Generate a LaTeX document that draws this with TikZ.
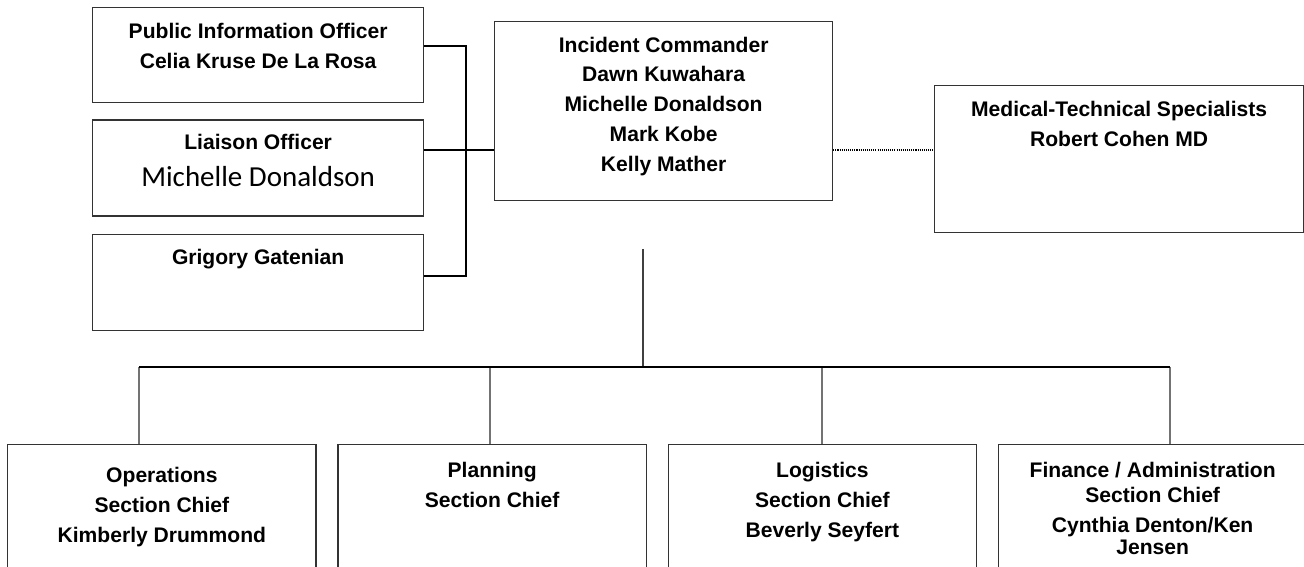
\documentclass[tikz,border=0pt]{standalone}
\usepackage{fontspec}
\setmainfont{Liberation Sans}
\newfontfamily\carlito{Carlito}
\usetikzlibrary{positioning, calc}

\begin{document}
\begin{tikzpicture}[x=0.02cm, y=-0.02cm,
    every node/.style={inner sep=0pt},
    unit/.style={draw=black!80, line width=0.75pt, rectangle, anchor=north west},
    txt/.style={align=center, font=\bfseries\fontsize{12}{17}\selectfont},
    link/.style={line width=0.9pt},
    drop/.style={line width=1.6pt, draw=black!55}]
    \useasboundingbox (0,0) rectangle (1304,567);

    % command staff on the left
    \node[unit, minimum width=6.62cm, minimum height=1.9cm] (pio) at (92,7) {}; % Public information
    \node[unit, minimum width=6.62cm, minimum height=1.92cm, below=0.32cm of pio] (liaison) {}; % Liaison
    \node[unit, minimum width=6.62cm, minimum height=1.92cm, below=0.34cm of liaison] (grig) {}; % Third staff box

    % commander and specialists
    \node[unit, minimum width=6.76cm, minimum height=3.58cm] (ic) at (494,21) {}; % Incident commander
    \node[unit, minimum width=7.38cm, minimum height=2.94cm] (med) at (934,85) {}; % Medical-technical

    % general staff sections
    \node[unit, minimum width=6.17cm, minimum height=2.7cm] (ops) at (7,444) {}; % Operations
    \node[unit, minimum width=6.17cm, minimum height=2.7cm, right=0.41cm of ops] (plan) {}; % Planning
    \node[unit, minimum width=6.17cm, minimum height=2.7cm, right=0.41cm of plan] (logi) {}; % Logistics
    \node[unit, minimum width=6.17cm, minimum height=2.7cm, right=0.41cm of logi] (fin) {}; % Finance

    % box texts
    \node[txt, below=0.32cm of pio.north] (pio-t) {Public Information Officer\\Celia Kruse De La Rosa};
    \node[txt, below=0.30cm of liaison.north] (liaison-t) {Liaison Officer\\[4pt]{\carlito\mdseries\fontsize{16.5}{18}\selectfont Michelle Donaldson}};
    \node[txt, below=0.31cm of grig.north] (grig-t) {Grigory Gatenian};
    \node[txt, below=0.31cm of ic.north] (ic-t) {Incident Commander\\Dawn Kuwahara\\Michelle Donaldson\\Mark Kobe\\Kelly Mather};
    \node[txt, below=0.32cm of med.north] (med-t) {Medical-Technical Specialists\\Robert Cohen MD};
    \node[txt, below=0.46cm of ops.north] (ops-t) {Operations\\Section Chief\\Kimberly Drummond};
    \node[txt, below=0.36cm of plan.north] (plan-t) {Planning\\Section Chief};
    \node[txt, below=0.36cm of logi.north] (logi-t) {Logistics\\Section Chief\\Beverly Seyfert};
    \node[txt, below=0.36cm of fin.north] (fin-t) {Finance / Administration\\[-3pt]Section Chief\\Cynthia Denton/Ken\\[-4pt]Jensen};

    % staff bracket
    \coordinate (tp) at (466,46);
    \coordinate (bt) at (466,276);
    \coordinate (mid) at (466,150);
    \draw[link] (pio.east |- tp) -- (tp) -- (bt) -- (grig.east |- bt);
    \draw[link] (liaison.east |- mid) -- (ic.west |- mid);
    \draw[line width=0.8pt, dash pattern=on 0.6pt off 0.6pt] (ic.east |- mid) -- (med.west |- mid);

    % down to the sections
    \coordinate (hub) at (643,249);
    \foreach \b/\x in {ops/139, plan/490, logi/822, fin/1170} {
        \coordinate (top-\b) at (\x,367);
        \draw[drop] (top-\b) -- (top-\b |- \b.north);
    }
    \draw[line width=1.1pt, draw=black!75] (hub) -- (hub |- top-ops);
    \draw[link] (top-ops) -- (top-fin);
\end{tikzpicture}
\end{document}
